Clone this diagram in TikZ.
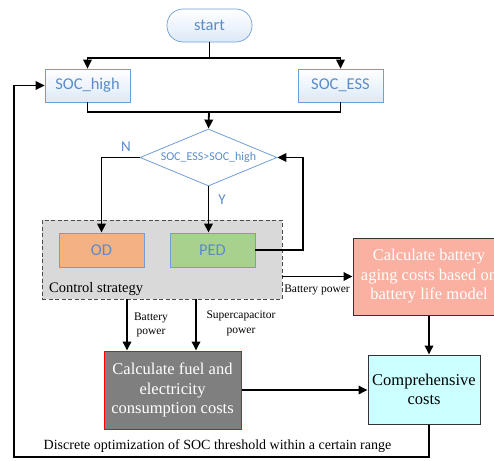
\documentclass[tikz,border=0pt]{standalone}
\usepackage{fontspec}
\setmainfont{Liberation Serif}
\newfontfamily\calfont{Carlito}
\usetikzlibrary{arrows.meta,shapes.geometric}
\definecolor{bltxt}{HTML}{5B8CC8}
\definecolor{blbord}{HTML}{6F9FD8}
\definecolor{blfill}{HTML}{DCE9F7}
\definecolor{odfill}{HTML}{F4B183}
\definecolor{pedfill}{HTML}{A9D18E}
\definecolor{ctrlfill}{HTML}{D9D9D9}
\definecolor{agefill}{HTML}{FBB1A1}
\definecolor{compfill}{HTML}{CCFFFF}
\definecolor{fuelfill}{HTML}{7F7F7F}
\tikzset{
  x=1pt, y=-1pt,
  arr/.style={line width=1.8pt, -{Triangle[length=9pt,width=8.5pt]}},
  ln/.style={line width=1.8pt},
  bluebox/.style={draw=blbord, line width=0.7pt, top color=white, bottom color=blfill, text=bltxt, font=\calfont\fontsize{16.5}{19}\selectfont, minimum width=85pt, minimum height=33pt, inner sep=0pt},
  modebox/.style={draw=blbord, line width=0.9pt, text=bltxt, font=\calfont\fontsize{16.5}{19}\selectfont, minimum width=85pt, minimum height=34pt, inner sep=0pt},
  serifbox/.style={line width=1pt, align=center, font=\fontsize{16.5}{19.5}\selectfont, inner sep=0pt},
  smalllbl/.style={font=\fontsize{11.5}{14.5}\selectfont, align=center, inner sep=0pt},
  yn/.style={text=bltxt, font=\calfont\fontsize{15}{18}\selectfont, inner sep=0pt}
}
\begin{document}
\begin{tikzpicture}
\useasboundingbox (0,0) rectangle (494,460);
\clip (0,0) rectangle (494,460);
% nodes
\node[bluebox, rounded corners=16pt] (start) at (209.5,25.5) {start};
\node[bluebox] (sochigh) at (87.5,85.5) {SOC\_high};
\node[bluebox] (socess) at (340.5,85.5) {SOC\_ESS};
\node[diamond, draw=blbord, line width=0.8pt, fill=white, minimum width=137pt, minimum height=57pt, inner sep=0pt, aspect=2.4, text=bltxt, font=\calfont\fontsize{12}{14}\selectfont] (dia) at (208.5,157.5) {SOC\_ESS>SOC\_high};
\node[draw=black!70, dash pattern=on 4pt off 2.5pt, line width=0.9pt, fill=ctrlfill, minimum width=240pt, minimum height=79pt, inner sep=0pt] (ctrl) at (162,259.5) {};
\node[modebox, fill=odfill] (od) at (101.5,250) {OD};
\node[modebox, fill=pedfill] (ped) at (212.5,250) {PED};
\node[anchor=base west, inner sep=0pt, font=\fontsize{14.5}{17}\selectfont] (ctrllbl) at (49,292) {Control strategy};
\node[serifbox, draw=black!80, fill=agefill, text=white, minimum width=152pt, minimum height=77pt] (aging) at (429,276.5) {Calculate battery\\aging costs based on\\battery life model};
\node[serifbox, draw=black!80, fill=compfill, text=black, minimum width=112pt, minimum height=69pt] (comp) at (424,389.5) {Comprehensive\\costs};
\node[serifbox, draw=red, fill=fuelfill, text=white, minimum width=137pt, minimum height=78pt] (fuel) at (172.5,390) {Calculate fuel and\\electricity\\consumption costs};
% labels
\node[yn] (nlbl) at (126,147) {N};
\node[yn] (ylbl) at (222,200) {Y};
\node[smalllbl] (bplbl) at (317,290) {Battery power};
\node[smalllbl] (bp2lbl) at (151,325) {Battery\\power};
\node[smalllbl] (sclbl) at (241,323.5) {Supercapacitor\\power};
\node[inner sep=0pt, font=\fontsize{14}{16}\selectfont] (disclbl) at (217.5,446) {Discrete optimization of SOC threshold within a certain range};
% coordinates
\coordinate (j1) at (209.5,58);
\coordinate (j2) at (209,112);
\coordinate (pr) at (303,250);
\coordinate (b1) at (429,457);
\coordinate (b2) at (14,457);
% connectors
\draw[ln] (start.south) -- (j1);
\draw[arr] (j1) -| (sochigh.north);
\draw[arr] (j1) -| (socess.north);
\draw[ln] (sochigh.south) |- (j2);
\draw[ln] (socess.south) |- (j2);
\draw[arr] (j2) -- (dia.north);
\draw[arr] (dia.west) -| (od.north);
\draw[arr] (dia.south) -- (dia.south |- ped.north);
\draw[arr] (ped.east) -- (pr) |- (dia.east);
\draw[arr] (ctrl.east |- aging.west) -- (aging.west);
\draw[arr] (aging.south) -- (aging.south |- comp.north);
\draw[arr] (ctrl.south -| 127,0) -- (fuel.north -| 127,0);
\draw[arr] (ctrl.south -| 196,0) -- (fuel.north -| 196,0);
\draw[arr] (fuel.east) -- (fuel.east -| comp.west);
\draw[arr] (comp.south -| b1) -- (b1) -- (b2) |- (sochigh.west);
\end{tikzpicture}
\end{document}
